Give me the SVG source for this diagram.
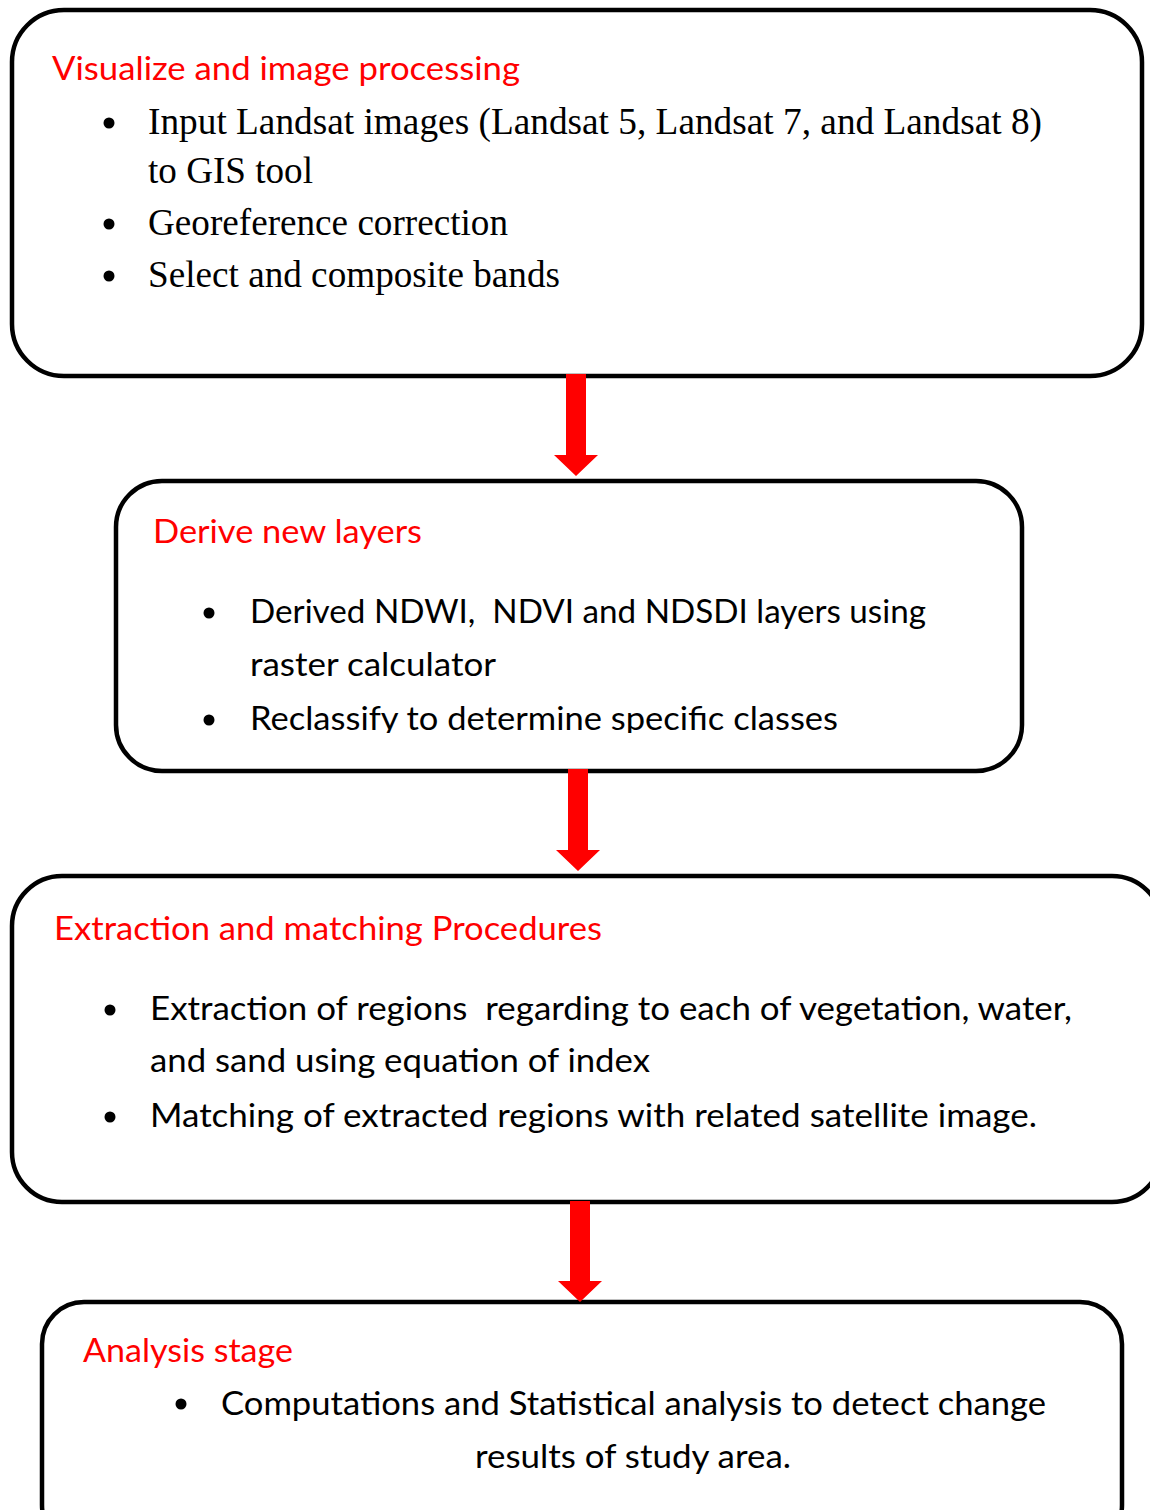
<svg xmlns="http://www.w3.org/2000/svg" width="1150" height="1510" viewBox="0 0 1150 1510" xml:space="preserve">
<defs>
<style>
.box{fill:#fff;stroke:#000;stroke-width:4.5}
.ttl{font-family:Lato,"Open Sans","Liberation Sans",sans-serif;font-size:33px;fill:#ff0000;white-space:pre}
.cal{font-family:Lato,"Open Sans","Liberation Sans",sans-serif;font-size:33px;fill:#000;white-space:pre}
.tnr{font-family:"Liberation Serif","Times New Roman",serif;font-size:37px;fill:#000}
.arr{fill:#ff0000}
.dot{fill:#000}
</style>
<clipPath id="clip2"><rect x="0" y="0" width="1150" height="733"/></clipPath>
</defs>
<rect width="1150" height="1510" fill="#fff"/>
<g id="node1">
<rect class="box" x="12" y="10" width="1130" height="366" rx="52" ry="52"/>
<text class="ttl" x="52" y="80" textLength="468" lengthAdjust="spacingAndGlyphs">Visualize and image processing</text>
<circle class="dot" cx="109" cy="123" r="5.5"/>
<text class="tnr" x="148" y="134" textLength="894" lengthAdjust="spacingAndGlyphs">Input Landsat images (Landsat 5, Landsat 7, and Landsat 8)</text>
<text class="tnr" x="148" y="183" textLength="165" lengthAdjust="spacingAndGlyphs">to GIS tool</text>
<circle class="dot" cx="109" cy="224" r="5.5"/>
<text class="tnr" x="148" y="235" textLength="360" lengthAdjust="spacingAndGlyphs">Georeference correction</text>
<circle class="dot" cx="109" cy="276" r="5.5"/>
<text class="tnr" x="148" y="287" textLength="412" lengthAdjust="spacingAndGlyphs">Select and composite bands</text>
</g>
<g id="node2">
<rect class="box" x="116" y="481" width="906" height="290" rx="46" ry="46"/>
<text class="ttl" x="153" y="543" textLength="269" lengthAdjust="spacingAndGlyphs">Derive new layers</text>
<circle class="dot" cx="209" cy="613" r="5.5"/>
<text class="cal" x="250" y="623" textLength="676" lengthAdjust="spacingAndGlyphs">Derived NDWI,  NDVI and NDSDI layers using</text>
<text class="cal" x="250" y="676" textLength="246" lengthAdjust="spacingAndGlyphs">raster calculator</text>
<circle class="dot" cx="209" cy="720" r="5.5"/>
<text class="cal" x="250" y="730" textLength="588" lengthAdjust="spacingAndGlyphs" clip-path="url(#clip2)">Reclassify to determine specific classes</text>
</g>
<g id="node3">
<rect class="box" x="12" y="876" width="1150" height="326" rx="50" ry="50"/>
<text class="ttl" x="54" y="940" textLength="548" lengthAdjust="spacingAndGlyphs">Extraction and matching Procedures</text>
<circle class="dot" cx="110" cy="1010" r="5.5"/>
<text class="cal" x="150" y="1020" textLength="922" lengthAdjust="spacingAndGlyphs">Extraction of regions  regarding to each of vegetation, water,</text>
<text class="cal" x="150" y="1072" textLength="500" lengthAdjust="spacingAndGlyphs">and sand using equation of index</text>
<circle class="dot" cx="110" cy="1117" r="5.5"/>
<text class="cal" x="150" y="1127" textLength="887" lengthAdjust="spacingAndGlyphs">Matching of extracted regions with related satellite image.</text>
</g>
<g id="node4">
<rect class="box" x="42" y="1302" width="1080" height="245" rx="42" ry="42"/>
<text class="ttl" x="83" y="1362" textLength="210" lengthAdjust="spacingAndGlyphs">Analysis stage</text>
<circle class="dot" cx="181" cy="1404" r="5.5"/>
<text class="cal" x="221" y="1415" textLength="825" lengthAdjust="spacingAndGlyphs">Computations and Statistical analysis to detect change</text>
<text class="cal" x="475" y="1468" textLength="316" lengthAdjust="spacingAndGlyphs">results of study area.</text>
</g>
<g id="connectors">
<polygon class="arr" points="566,374 586,374 586,455 598,455 576,476 554,455 566,455"/>
<polygon class="arr" points="568,769 588,769 588,850 600,850 578,871 556,850 568,850"/>
<polygon class="arr" points="570,1201 590,1201 590,1281 602,1281 580,1302 558,1281 570,1281"/>
</g>
</svg>
